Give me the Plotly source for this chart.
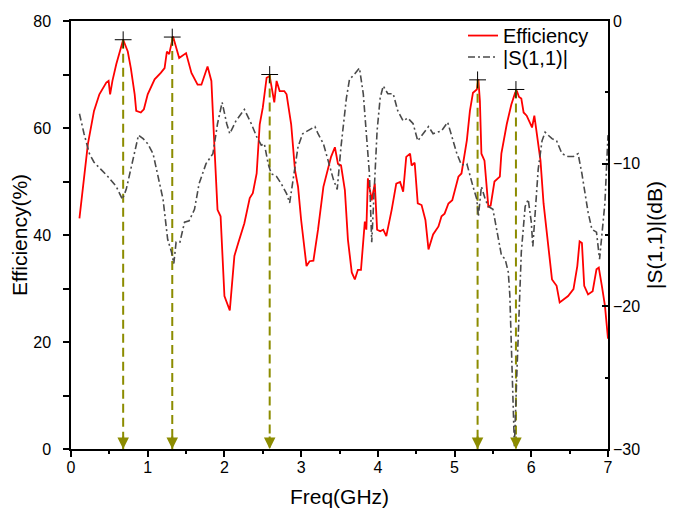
import plotly.graph_objects as go

# Efficiency (%) vs frequency (GHz)
eff_freq = [0.11,0.22,0.30,0.37,0.46,0.49,0.51,0.54,0.59,0.65,0.68,0.74,0.78,0.83,0.85,0.91,0.95,1.00,1.09,1.17,
            1.22,1.25,1.28,1.33,1.37,1.41,1.50,1.57,1.65,1.70,1.78,1.83,1.87,1.91,1.95,2.00,2.07,2.13,2.18,2.26,
            2.33,2.37,2.42,2.46,2.50,2.55,2.59,2.63,2.65,2.68,2.72,2.78,2.81,2.87,2.92,2.96,3.00,3.07,3.11,3.16,
            3.22,3.29,3.35,3.39,3.44,3.48,3.52,3.57,3.61,3.66,3.70,3.74,3.78,3.83,3.85,3.87,3.92,3.96,3.99,4.03,
            4.07,4.11,4.18,4.24,4.29,4.33,4.37,4.42,4.44,4.48,4.52,4.57,4.62,4.66,4.72,4.79,4.83,4.87,4.92,4.97,
            5.05,5.09,5.16,5.20,5.24,5.29,5.31,5.33,5.35,5.39,5.44,5.47,5.52,5.59,5.61,5.68,5.74,5.79,5.81,5.84,
            5.87,5.90,5.94,6.01,6.04,6.07,6.12,6.16,6.22,6.27,6.33,6.37,6.48,6.55,6.60,6.63,6.66,6.69,6.74,6.80,
            6.85,6.88,6.92,6.96,7.00]
eff_val = [43.1,57.0,63.2,66.3,68.5,68.8,66.3,68.8,71.9,74.9,76.5,74.3,71.2,66.3,63.2,62.9,63.5,66.3,69.1,70.3,
           71.2,74.3,73.8,77.1,74.9,73.1,74.0,70.3,68.1,68.1,71.5,68.8,56.4,44.7,43.5,28.6,25.9,36.1,38.5,42.2,
           46.9,47.8,51.5,60.7,63.8,69.4,69.7,66.0,64.8,68.8,66.9,66.9,66.3,60.7,52.1,49.0,42.8,34.2,35.1,35.2,
           41.0,49.0,52.1,54.6,56.4,53.3,53.0,48.4,39.1,33.0,31.7,33.5,33.5,42.5,41.0,50.6,46.5,49.6,41.0,40.7,
           41.0,39.8,44.7,49.6,49.9,48.1,54.6,55.2,53.0,53.5,45.9,45.6,42.8,37.3,40.1,41.6,43.5,44.0,45.9,46.5,
           50.9,51.5,57.7,63.2,66.6,67.2,69.1,65.1,55.2,53.9,45.3,45.5,50.0,50.9,55.2,60.7,64.4,66.6,67.0,65.8,
           65.5,62.9,62.3,60.1,62.3,58.9,53.9,45.9,37.9,31.7,30.5,27.4,28.6,29.9,34.2,38.8,38.5,30.5,28.9,29.5,
           33.6,33.9,30.5,26.8,20.6]

# |S(1,1)| (dB) vs frequency (GHz)
s11_freq = [0.11,0.17,0.24,0.30,0.39,0.48,0.59,0.67,0.72,0.78,0.83,0.88,0.94,1.00,1.07,1.13,1.20,1.26,1.31,1.34,
            1.37,1.42,1.48,1.54,1.61,1.67,1.72,1.76,1.85,1.91,1.97,2.03,2.07,2.15,2.26,2.35,2.42,2.48,2.52,2.57,
            2.61,2.68,2.74,2.81,2.85,2.90,2.96,3.02,3.09,3.18,3.22,3.29,3.35,3.42,3.47,3.52,3.59,3.63,3.70,3.76,
            3.81,3.85,3.89,3.92,3.96,3.99,4.03,4.07,4.13,4.20,4.26,4.33,4.39,4.46,4.52,4.59,4.66,4.72,4.83,4.91,
            4.96,5.03,5.09,5.16,5.24,5.29,5.31,5.35,5.40,5.44,5.50,5.54,5.59,5.61,5.66,5.70,5.72,5.75,5.78,5.81,
            5.84,5.87,5.92,5.96,6.00,6.02,6.05,6.09,6.14,6.18,6.27,6.33,6.40,6.48,6.55,6.61,6.66,6.70,6.74,6.79,
            6.85,6.89,6.92,6.96,7.00]
s11_val = [-6.5,-7.9,-9.3,-9.9,-10.4,-10.9,-11.6,-12.5,-11.8,-10.4,-9.1,-8.0,-8.25,-8.6,-9.3,-10.7,-12.5,-15.3,-16.2,-17.0,
           -15.5,-15.5,-14.1,-14.0,-13.2,-11.4,-10.6,-10.0,-9.3,-7.2,-5.7,-7.2,-7.9,-7.0,-6.2,-7.2,-8.1,-8.7,-8.6,-10.0,
           -10.7,-10.9,-11.4,-12.1,-12.75,-10.9,-8.8,-7.9,-7.7,-7.4,-7.9,-8.6,-9.75,-11.1,-11.8,-8.8,-5.4,-4.1,-3.7,-3.3,
           -5.1,-7.7,-10.7,-15.5,-11.4,-7.7,-5.4,-4.55,-5.1,-5.1,-6.3,-7.0,-6.8,-7.2,-8.4,-7.9,-7.4,-7.9,-7.7,-7.1,
           -8.1,-9.3,-10.1,-10.0,-11.6,-12.5,-13.7,-11.6,-12.5,-13.0,-13.2,-14.4,-16.0,-16.4,-16.7,-17.6,-19.2,-24.0,-29.8,-25.0,
           -20.0,-16.2,-13.0,-12.5,-14.1,-15.8,-13.5,-10.4,-8.4,-7.8,-8.25,-8.4,-9.3,-9.5,-9.5,-9.3,-10.7,-12.1,-13.4,-14.6,
           -14.8,-16.7,-15.0,-12.75,-8.0]

# Marked efficiency peaks
peak_freq = [0.68, 1.32, 2.59, 5.30, 5.80]
peak_eff = [76.5, 77.0, 70.0, 69.0, 67.2]

FONT = "Arial, Liberation Sans, sans-serif"
OLIVE = "#8c8c00"

fig = go.Figure()

fig.add_trace(go.Scatter(x=eff_freq, y=eff_val, mode="lines", name="Efficiency", legend="legend",
                         line=dict(color="#ff0000", width=1.8)))
fig.add_trace(go.Scatter(x=s11_freq, y=s11_val, mode="lines", name="|S(1,1)|", yaxis="y2", legend="legend2",
                         line=dict(color="#4a4a4a", width=1.6, dash="7px,3px,2px,3px")))

# dashed drop lines from peaks to the axis
ax_x, ax_y = [], []
for f, e in zip(peak_freq, peak_eff):
    ax_x += [f, f, None]
    ax_y += [e, 0, None]
fig.add_trace(go.Scatter(x=ax_x, y=ax_y, mode="lines", showlegend=False, hoverinfo="skip",
                         line=dict(color=OLIVE, width=2, dash="9px,5px")))
fig.add_trace(go.Scatter(x=peak_freq, y=peak_eff, mode="markers", showlegend=False,
                         marker=dict(symbol="cross-thin", size=12, line=dict(color="black", width=1))))

for f in peak_freq:
    fig.add_annotation(x=f, y=0, xref="x", yref="y", ax=0, ay=-14, text="", showarrow=True,
                       arrowhead=2, arrowsize=1.15, arrowwidth=2, arrowcolor=OLIVE, standoff=0)

leg_common = dict(xanchor="left", yanchor="middle", bgcolor="rgba(0,0,0,0)",
                  font=dict(size=20, family=FONT), borderwidth=0)

# page has an 8px body margin, so the figure is sized to fill the 675x522 window
fig.update_layout(
    width=667, height=514,
    margin=dict(l=63, r=67, t=8, b=73),
    paper_bgcolor="white", plot_bgcolor="white",
    font=dict(family=FONT, size=16, color="black"),
    showlegend=True,
    legend=dict(x=0.73, y=0.966, **leg_common),
    legend2=dict(x=0.73, y=0.916, **leg_common),
    xaxis=dict(range=[0, 7], dtick=1, showgrid=False, zeroline=False, automargin=False,
               showline=True, linecolor="black", linewidth=1.5, mirror=True,
               ticks="outside", ticklen=6, tickwidth=1.5, tickcolor="black", ticklabelstandoff=-3,
               minor=dict(dtick=0.5, ticks="outside", ticklen=3, tickwidth=1.5, tickcolor="black"),
               title=dict(text="Freq(GHz)", font=dict(size=21), standoff=14),
               tickfont=dict(size=16)),
    yaxis=dict(range=[0, 80], dtick=20, showgrid=False, zeroline=False, automargin=False,
               showline=True, linecolor="black", linewidth=1.5,
               ticks="outside", ticklen=6, tickwidth=1.5, tickcolor="black", ticklabelstandoff=9,
               minor=dict(dtick=10, ticks="outside", ticklen=6, tickwidth=1.5, tickcolor="black"),
               title=dict(text="Efficiency(%)", font=dict(size=21), standoff=1),
               tickfont=dict(size=16)),
    yaxis2=dict(range=[-30, 0], dtick=10, overlaying="y", side="right", showgrid=False, zeroline=False,
                automargin=False,
                showline=True, linecolor="black", linewidth=1.5,
                ticks="inside", ticklen=6, tickwidth=1.5, tickcolor="black", ticklabelstandoff=0,
                minor=dict(dtick=5, ticks="inside", ticklen=3, tickwidth=1.5, tickcolor="black"),
                title=dict(text="|S(1,1)|(dB)", font=dict(size=21), standoff=8),
                tickfont=dict(size=16)),
)

fig.write_html("out.html")
